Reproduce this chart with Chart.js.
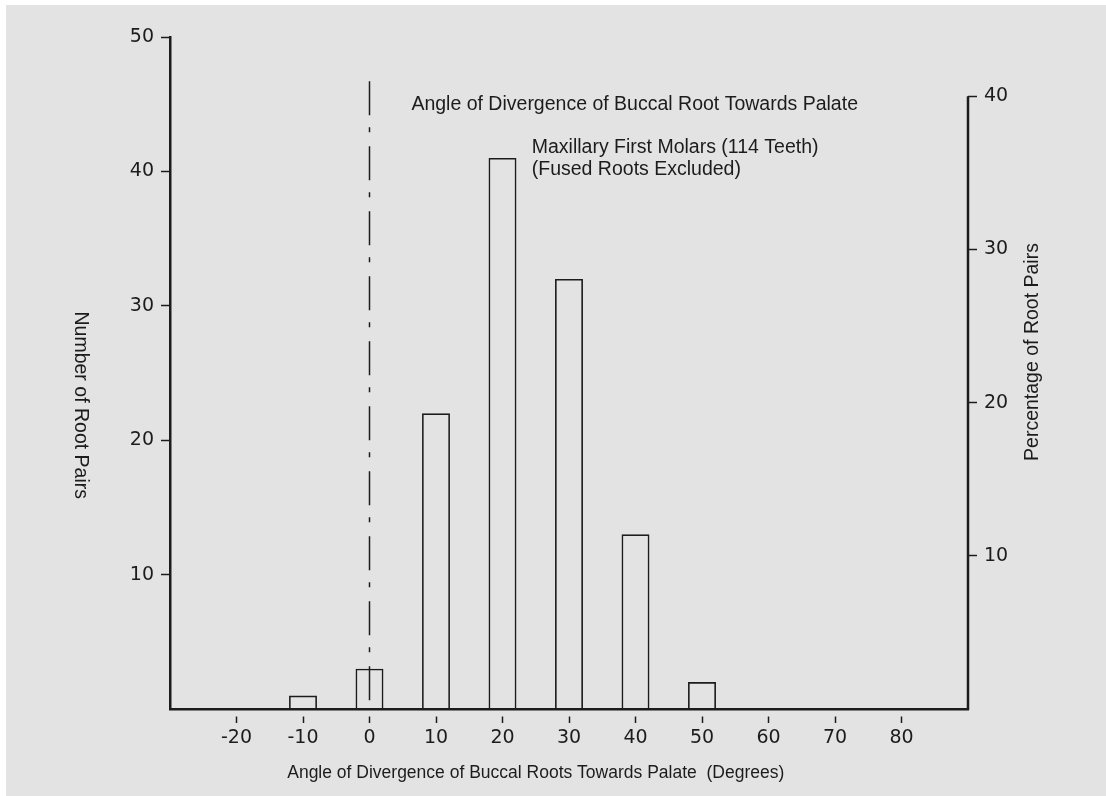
<!DOCTYPE html>
<html>
<head>
<meta charset="utf-8">
<script src="https://cdn.jsdelivr.net/npm/chart.js@4"></script>
<style>
  html, body { margin: 0; padding: 0; background: #ffffff; }
  #wrap { width: 1106px; height: 796px; position: relative; }
</style>
</head>
<body>
<div id="wrap"><canvas id="c" width="1106" height="796"></canvas></div>
<script>
// ---- data ----
const angles = [-10, 0, 10, 20, 30, 40, 50];
const rootPairs = [1, 3, 22, 41, 32, 13, 2];
const totalPairs = 114;
const xTickValues = [-20, -10, 0, 10, 20, 30, 40, 50, 60, 70, 80];
const leftTickValues = [10, 20, 30, 40, 50];
const rightTickValues = [10, 20, 30, 40];
const refLineX = 0;
const refLineTop = 46.7;

const titleText = 'Angle of Divergence of Buccal Root Towards Palate';
const subtitleLines = ['Maxillary First Molars (114 Teeth)', '(Fused Roots Excluded)'];
const xTitle = 'Angle of Divergence of Buccal Roots Towards Palate  (Degrees)';
const leftTitle = 'Number of Root Pairs';
const rightTitle = 'Percentage of Root Pairs';

const INK = '#1c1c1c';
const TEXT_FONT = '"Liberation Sans", Arial, sans-serif';
const NUM_FONT = '"DejaVu Sans", sans-serif';

const barData = angles.map((a, i) => ({ x: a, y: rootPairs[i] }));

const bgPlugin = {
  id: 'bg',
  beforeDraw(chart) {
    const ctx = chart.ctx;
    ctx.save();
    ctx.fillStyle = '#ffffff';
    ctx.fillRect(0, 0, chart.width, chart.height);
    ctx.fillStyle = '#e3e3e3';
    ctx.fillRect(6, 5, chart.width - 6, chart.height - 5);
    ctx.restore();
  }
};

const annoPlugin = {
  id: 'anno',
  afterDraw(chart) {
    const ctx = chart.ctx;
    const xs = chart.scales.x, ys = chart.scales.y, y2 = chart.scales.y2;
    const area = chart.chartArea;
    ctx.save();
    // right axis line from 0% to 40%
    ctx.strokeStyle = INK;
    ctx.lineWidth = 2.5;
    ctx.beginPath();
    ctx.moveTo(area.right, y2.getPixelForValue(0) + 1);
    ctx.lineTo(area.right, y2.getPixelForValue(40));
    ctx.stroke();

    ctx.fillStyle = INK;
    ctx.textBaseline = 'middle';
    ctx.textAlign = 'left';
    ctx.font = '19.5px ' + TEXT_FONT;
    ctx.fillText(titleText, xs.getPixelForValue(6.3), ys.getPixelForValue(45.0));
    ctx.fillText(subtitleLines[0], xs.getPixelForValue(24.4), ys.getPixelForValue(41.8));
    ctx.fillText(subtitleLines[1], xs.getPixelForValue(24.4), ys.getPixelForValue(40.1));

    // left title (reads top to bottom)
    ctx.textAlign = 'center';
    ctx.save();
    ctx.translate(area.left - 90, ys.getPixelForValue(22.6));
    ctx.rotate(Math.PI / 2);
    ctx.fillText(leftTitle, 0, 0);
    ctx.restore();

    // right title (reads bottom to top)
    ctx.save();
    ctx.translate(area.right + 65, y2.getPixelForValue(23.3));
    ctx.rotate(-Math.PI / 2);
    ctx.fillText(rightTitle, 0, 0);
    ctx.restore();

    // x title
    ctx.font = '17.5px ' + TEXT_FONT;
    ctx.fillText(xTitle, xs.getPixelForValue(25), area.bottom + 64);

    ctx.restore();
  }
};

new Chart(document.getElementById('c'), {
  type: 'bar',
  data: {
    datasets: [
      {
        type: 'bar',
        data: barData,
        backgroundColor: 'rgba(0,0,0,0)',
        borderColor: INK,
        borderWidth: 1.6,
        barPercentage: 0.42,
        categoryPercentage: 1.0,
        yAxisID: 'y'
      },
      {
        type: 'line',
        data: [{ x: refLineX, y: refLineTop }, { x: refLineX, y: 0 }],
        borderColor: INK,
        borderWidth: 1.5,
        borderDash: [34, 12, 5, 14],
        pointRadius: 0,
        fill: false,
        yAxisID: 'y'
      }
    ]
  },
  plugins: [bgPlugin, annoPlugin],
  options: {
    responsive: false,
    animation: false,
    events: [],
    layout: { padding: { top: 37, left: 0, right: 0, bottom: 0 } },
    plugins: { legend: { display: false }, tooltip: { enabled: false }, title: { display: false } },
    scales: {
      x: {
        type: 'linear',
        min: -30,
        max: 90,
        offset: false,
        afterFit(s) { s.height = 87; },
        afterBuildTicks(s) { s.ticks = xTickValues.map(v => ({ value: v })); },
        border: { display: true, color: INK, width: 2.5 },
        grid: {
          offset: false,
          drawOnChartArea: false,
          drawTicks: true,
          tickLength: 14,
          tickWidth: 1.5,
          tickColor: INK,
          tickBorderDash: [8, 100],
          tickBorderDashOffset: 102
        },
        ticks: {
          color: INK,
          font: { family: NUM_FONT, size: 19 },
          padding: 4,
          maxRotation: 0,
          autoSkip: false
        }
      },
      y: {
        position: 'left',
        min: 0,
        max: 50,
        afterFit(s) { s.width = 170; },
        afterBuildTicks(s) { s.ticks = leftTickValues.map(v => ({ value: v })); },
        border: { display: true, color: INK, width: 2.5 },
        grid: {
          drawOnChartArea: false,
          drawTicks: true,
          tickLength: 9,
          tickWidth: 1.5,
          tickColor: INK
        },
        ticks: {
          color: INK,
          font: { family: NUM_FONT, size: 19 },
          padding: 7
        }
      },
      y2: {
        position: 'right',
        min: 0,
        max: 50 * 100 / totalPairs,
        afterFit(s) { s.width = 138; },
        afterBuildTicks(s) { s.ticks = rightTickValues.map(v => ({ value: v })); },
        border: { display: false },
        grid: {
          drawOnChartArea: false,
          drawTicks: true,
          tickLength: 9,
          tickWidth: 1.5,
          tickColor: INK
        },
        ticks: {
          color: INK,
          font: { family: NUM_FONT, size: 19 },
          padding: 7
        }
      }
    }
  }
});
</script>
</body>
</html>
